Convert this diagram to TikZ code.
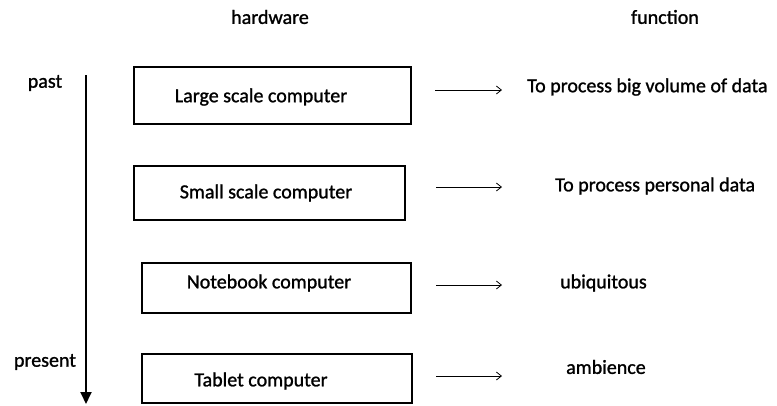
\documentclass[tikz,border=0pt]{standalone}
\usepackage{fontspec}
\setmainfont{Carlito}[FakeBold=1.2]
\usetikzlibrary{arrows.meta}
\begin{document}
\begin{tikzpicture}[x=1pt,y=-1pt,
  lbl/.style={font=\fontsize{20}{23}\selectfont, inner sep=0pt, anchor=center},
  hwbox/.style={draw, line width=1.8pt},
  fnarrow/.style={-{Straight Barb[length=5pt,width=8pt]}, line width=0.8pt},
  timearrow/.style={-{Triangle[length=12pt,width=11pt]}, line width=1.8pt}]
\useasboundingbox (0,0) rectangle (777,405);
\node[lbl] (hw) at (270,17) {hardware};
\node[lbl] (fn) at (665,17) {function};
\node[lbl] (past) at (45,83) {past};
\node[lbl] (present) at (45,362) {present};
\coordinate (ts) at (86,75);
\coordinate (te) at (86,404);
\draw[timearrow] (ts) -- (te);

\draw[hwbox] (134,67) rectangle (411,124);
\node[lbl] (b1) at (261,97) {Large scale computer};
\draw[hwbox] (134,166) rectangle (405,220);
\node[lbl] (b2) at (266,193) {Small scale computer};
\draw[hwbox] (142,263) rectangle (411,313);
\node[lbl] (b3) at (269,283) {Notebook computer};
\draw[hwbox] (142,354) rectangle (412,403);
\node[lbl] (b4) at (261,381) {Tablet computer};

\node[lbl,anchor=west] (f1) at (527,87) {To process big volume of data};
\node[lbl,anchor=west] (f2) at (555,186) {To process personal data};
\node[lbl,anchor=west] (f3) at (560,283) {ubiquitous};
\node[lbl,anchor=west] (f4) at (566,367) {ambience};

\coordinate (a1s) at (435,90); \coordinate (a1e) at (502,90);
\coordinate (a2s) at (436,187); \coordinate (a2e) at (502,187);
\coordinate (a3s) at (436,285); \coordinate (a3e) at (502,285);
\coordinate (a4s) at (436,376); \coordinate (a4e) at (502,376);
\draw[fnarrow] (a1s) -- (a1e);
\draw[fnarrow] (a2s) -- (a2e);
\draw[fnarrow] (a3s) -- (a3e);
\draw[fnarrow] (a4s) -- (a4e);
\end{tikzpicture}
\end{document}
